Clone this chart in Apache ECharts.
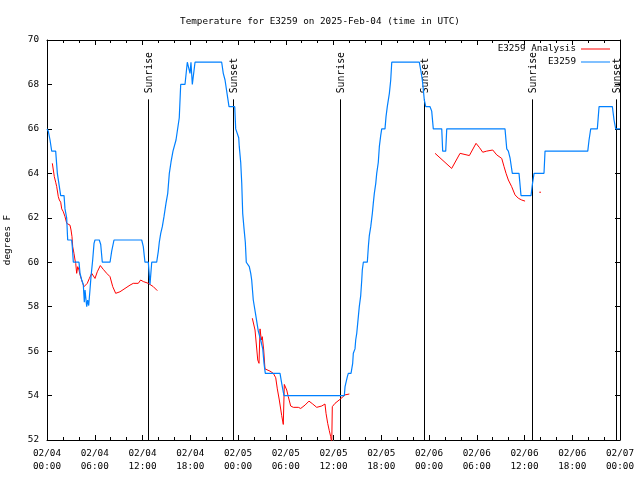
<!DOCTYPE html>
<html>
<head>
<meta charset="utf-8">
<script src="https://cdn.jsdelivr.net/npm/echarts@6/dist/echarts.min.js"></script>
<style>html,body{margin:0;padding:0;background:#fff;}#chart{width:640px;height:480px;}</style>
</head>
<body>
<div id="chart"></div>
<script>
// ---- data (hours since 2025-02-04 00:00 UTC, degrees F) ----
const titleText = 'Temperature for E3259 on 2025-Feb-04 (time in UTC)';
const xTickLabels = ['02/04\n00:00','02/04\n06:00','02/04\n12:00','02/04\n18:00','02/05\n00:00','02/05\n06:00','02/05\n12:00','02/05\n18:00','02/06\n00:00','02/06\n06:00','02/06\n12:00','02/06\n18:00','02/07\n00:00'];
const yTicks = [52,54,56,58,60,62,64,66,68,70];
const legendNames = ['E3259 Analysis','E3259'];

const sunHours  = [12.73, 23.31, 36.86, 47.41, 60.98, 71.46];
const sunLabels = ['Sunrise','Sunset','Sunrise','Sunset','Sunrise','Sunset'];

const e3259 = [
 [0.00,66.0],[0.16,65.9],[0.38,65.5],[0.59,65.0],[1.09,65.0],[1.30,64.0],[1.55,64.0],[1.72,63.0],[2.14,63.0],
 [2.26,62.4],[2.47,62.0],[2.60,61.0],[3.10,61.0],[3.18,60.7],[3.31,60.0],[4.02,60.0],[4.15,59.5],[4.36,59.2],
 [4.56,59.0],[4.69,58.2],[4.78,58.75],[4.86,58.45],[4.99,58.0],[5.11,58.3],[5.24,58.05],[5.40,58.75],[5.53,59.35],
 [5.74,60.1],[5.91,60.85],[6.03,61.0],[6.57,61.0],[6.75,60.8],[6.95,60.0],[7.92,60.0],[8.13,60.5],[8.42,61.0],
 [11.90,61.0],[12.10,60.7],[12.31,60.0],[12.73,60.0],[12.94,59.0],[13.07,59.05],[13.16,60.0],[13.78,60.0],
 [13.99,60.5],[14.11,60.9],[14.29,61.3],[14.49,61.6],[14.70,62.05],[14.95,62.65],[15.17,63.1],[15.37,64.0],
 [15.58,64.5],[15.83,65.0],[16.21,65.5],[16.62,66.5],[16.80,68.0],[17.34,68.0],[17.63,69.0],[17.88,69.0],
 [17.97,68.5],[18.09,69.0],[18.26,68.0],[18.60,69.0],[21.95,69.0],[22.15,68.5],[22.37,68.2],[22.87,67.0],
 [23.59,67.0],[23.71,66.0],[24.09,65.6],[24.16,65.2],[24.34,64.5],[24.47,63.55],[24.59,62.2],[24.76,61.5],
 [24.92,60.9],[25.04,60.0],[25.42,59.8],[25.60,59.5],[25.72,59.2],[25.92,58.3],[26.26,57.55],[26.55,56.9],
 [26.85,56.5],[27.11,56.1],[27.27,55.45],[27.43,55.0],[29.28,55.0],[29.49,54.55],[29.78,54.0],[37.36,54.0],
 [37.45,54.4],[37.74,54.85],[37.86,55.0],[38.20,55.0],[38.41,55.45],[38.49,55.9],[38.70,56.1],[38.79,56.5],
 [38.92,56.8],[39.04,57.25],[39.24,58.0],[39.42,58.5],[39.55,59.2],[39.62,59.65],[39.75,60.0],[40.25,60.0],
 [40.38,60.7],[40.50,61.2],[40.68,61.6],[40.88,62.2],[41.00,62.65],[41.13,63.1],[41.31,63.55],[41.43,64.0],
 [41.63,64.5],[41.76,65.2],[41.93,65.7],[42.06,66.0],[42.47,66.0],[42.60,66.55],[42.76,67.0],[43.02,67.6],
 [43.19,68.2],[43.32,69.0],[46.78,69.0],[46.96,68.65],[47.16,68.2],[47.29,67.75],[47.41,67.3],[47.59,67.0],
 [48.13,67.0],[48.34,66.8],[48.54,66.0],[49.60,66.0],[49.72,65.0],[50.10,65.0],[50.23,66.0],[57.55,66.0],
 [57.77,65.1],[57.97,65.0],[58.18,64.7],[58.47,64.0],[59.31,64.0],[59.56,63.0],[60.82,63.0],[60.99,63.5],
 [61.20,64.0],[62.45,64.0],[62.58,65.0],[67.95,65.0],[68.11,65.5],[68.32,66.0],[69.15,66.0],[69.37,67.0],
 [71.04,67.0],[71.25,66.4],[71.46,66.0],[72.00,66.0]
];

const analysisSeg1 = [
 [0.67,64.45],[0.92,63.85],[1.09,63.6],[1.22,63.4],[1.42,62.95],[1.55,62.8],[1.72,62.7],[1.85,62.4],[2.05,62.27],
 [2.26,62.05],[2.48,61.75],[2.68,61.67],[2.89,61.67],[3.02,61.45],[3.14,61.15],[3.23,60.7],[3.39,60.4],[3.52,60.1],
 [3.61,59.95],[3.73,59.5],[3.86,59.8],[4.02,59.65],[4.15,59.43],[4.36,59.2],[4.49,59.05],[4.65,58.9],[4.86,58.82],
 [5.06,59.05],[5.32,59.27],[5.62,59.5],[5.82,59.43],[6.03,59.27],[6.32,59.57],[6.70,59.85],[7.07,59.68],[7.50,59.5],
 [7.92,59.35],[8.26,58.9],[8.63,58.6],[9.17,58.67],[9.80,58.82],[10.43,58.97],[10.84,59.05],[11.47,59.05],
 [11.77,59.2],[12.10,59.13],[12.73,59.05],[12.94,58.97],[13.36,58.9],[13.86,58.72]
];
const analysisSeg2 = [
 [25.80,57.48],[26.01,57.4],[26.14,56.95],[26.48,55.6],[26.64,55.45],[26.77,57.0],[26.93,56.5],[27.05,56.65],
 [27.23,56.05],[27.39,55.2],[27.61,55.15],[28.02,55.1],[28.44,55.0],[28.74,54.8],[28.94,54.3],[29.19,53.8],
 [29.49,53.1],[29.69,52.7],[29.82,54.5],[30.12,54.25],[30.32,53.95],[30.62,53.53],[30.95,53.47],[31.58,53.47],
 [31.88,53.42],[32.42,53.57],[32.92,53.75],[33.39,53.62],[33.89,53.47],[34.52,53.53],[34.93,53.62],[35.06,53.2],
 [35.27,52.75],[35.47,52.42],[35.65,52.15],[35.78,51.85],[35.85,53.5],[36.19,53.65],[36.82,53.83],[37.45,54.03],
 [37.99,54.07]
];
const analysisSeg3 = [
 [48.76,64.9],[50.85,64.22],[51.90,64.9],[53.07,64.8],[53.91,65.35],[54.32,65.17],[54.75,64.95],[55.25,65.0],
 [56.01,65.05],[56.51,64.83],[57.14,64.67],[57.43,64.3],[57.68,64.0],[57.97,63.7],[58.39,63.4],[58.81,63.03],
 [59.22,62.88],[59.65,62.8],[60.07,62.75]
];
const analysisSeg4 = [[61.86,63.15],[62.07,63.15]];

// ---- chart ----
const FONT = 'DejaVu Sans Mono';
const FS = 9.3;
const yMin = 52, yMax = 70;
const sunLineTop = 67.33;

const analysis = [].concat(analysisSeg1, [[20, null]], analysisSeg2, [[43, null]], analysisSeg3, [[61, null]], analysisSeg4);

const chart = echarts.init(document.getElementById('chart'), null, {renderer: 'canvas'});

const commonX = {
  type: 'value', min: 0, max: 72, interval: 6,
  axisLine: {show: true, onZero: false, lineStyle: {color: '#000', width: 1}},
  axisTick: {show: true, inside: true, length: 5, lineStyle: {color: '#000'}},
  minorTick: {show: true, splitNumber: 3, length: 3, lineStyle: {color: '#000'}},
  splitLine: {show: false}
};
const commonY = {
  type: 'value', min: yMin, max: yMax, interval: 2,
  axisLine: {show: true, onZero: false, lineStyle: {color: '#000', width: 1}},
  axisTick: {show: true, inside: true, length: 5, lineStyle: {color: '#000'}},
  splitLine: {show: false}
};

chart.setOption({
  animation: false,
  backgroundColor: '#fff',
  title: {
    text: titleText, left: 'center', top: 12,
    textStyle: {fontFamily: FONT, fontSize: FS, fontWeight: 'normal', color: '#000'}
  },
  legend: {
    data: legendNames.map(function (n) { return {name: n, icon: 'rect'}; }),
    orient: 'vertical', align: 'right',
    right: 30, top: 44, padding: 0, itemGap: 3,
    itemWidth: 29, itemHeight: 1,
    textStyle: {fontFamily: FONT, fontSize: FS, color: '#000', lineHeight: 10, height: 10}
  },
  grid: {left: 47, right: 20, top: 40, bottom: 40, containLabel: false, outerBoundsMode: 'none'},
  xAxis: [
    Object.assign({}, commonX, {
      position: 'bottom',
      axisLabel: {
        show: true, margin: 7, fontFamily: FONT, fontSize: FS, color: '#000', lineHeight: 13,
        formatter: function (v) { return xTickLabels[Math.round(v / 6)]; }
      }
    }),
    Object.assign({}, commonX, {position: 'top', axisLabel: {show: false}})
  ],
  yAxis: [
    Object.assign({}, commonY, {
      position: 'left',
      name: 'degrees F', nameLocation: 'middle', nameGap: 35,
      nameTextStyle: {fontFamily: FONT, fontSize: FS, color: '#000'},
      axisLabel: {show: true, margin: 8, fontFamily: FONT, fontSize: FS, color: '#000',
        formatter: function (v) { return yTicks.indexOf(v) >= 0 ? String(v) : ''; }}
    }),
    Object.assign({}, commonY, {position: 'right', axisLabel: {show: false}})
  ],
  series: [
    {
      name: 'Sun', type: 'custom', xAxisIndex: 0, yAxisIndex: 0, silent: true, clip: false,
      data: sunHours.map(function (h) { return [h]; }),
      encode: {x: 0},
      renderItem: function (params, api) {
        const h = api.value(0);
        const p0 = api.coord([h, yMin]);
        const p1 = api.coord([h, sunLineTop]);
        const x = Math.round(p0[0]) + 0.5;
        return {
          type: 'group',
          children: [
            {type: 'line', shape: {x1: x, y1: p0[1], x2: x, y2: p1[1]},
             style: {stroke: '#000', lineWidth: 1}},
            {type: 'text', x: x + 0.5, y: p1[1] - 6, rotation: Math.PI / 2,
             style: {text: sunLabels[params.dataIndex], align: 'left', verticalAlign: 'middle',
                     fontFamily: FONT, fontSize: FS + 0.5, fill: '#000'}}
          ]
        };
      }
    },
    {
      name: 'E3259 Analysis', type: 'line', xAxisIndex: 0, yAxisIndex: 0,
      data: analysis, symbol: 'none', connectNulls: false,
      lineStyle: {color: '#ff0000', width: 1}, itemStyle: {color: '#ff0000'}
    },
    {
      name: 'E3259', type: 'line', xAxisIndex: 0, yAxisIndex: 0,
      data: e3259, symbol: 'none',
      lineStyle: {color: '#0080ff', width: 1.2}, itemStyle: {color: '#0080ff'}
    }
  ]
});
</script>
</body>
</html>
